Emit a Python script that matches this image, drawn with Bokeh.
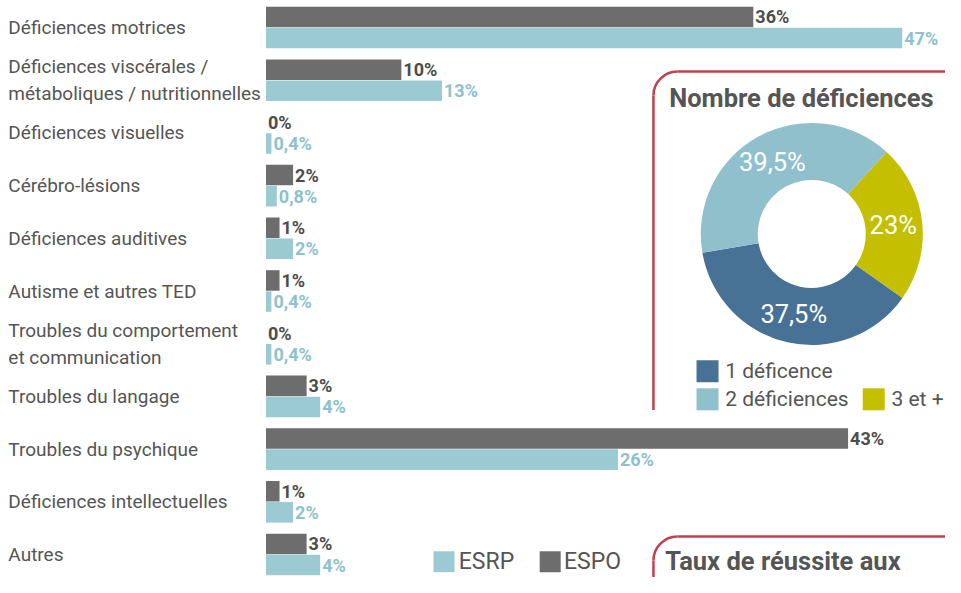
import numpy as np
from bokeh.plotting import figure
from bokeh.models import Range1d, ColumnDataSource
from bokeh.core.properties import value
from bokeh.embed import file_html
from bokeh.resources import INLINE

# ---------------- data ----------------
categories = [
    "Déficiences motrices",
    "Déficiences viscérales /\nmétaboliques / nutritionnelles",
    "Déficiences visuelles",
    "Cérébro-lésions",
    "Déficiences auditives",
    "Autisme et autres TED",
    "Troubles du comportement\net communication",
    "Troubles du langage",
    "Troubles du psychique",
    "Déficiences intellectuelles",
    "Autres",
]
espo = [36, 10, 0, 2, 1, 1, 0, 3, 43, 1, 3]
esrp = [47, 13, 0.4, 0.8, 2, 0.4, 0.4, 4, 26, 2, 4]
espo_labels = ["36%", "10%", "0%", "2%", "1%", "1%", "0%", "3%", "43%", "1%", "3%"]
esrp_labels = ["47%", "13%", "0,4%", "0,8%", "2%", "0,4%", "0,4%", "4%", "26%", "2%", "4%"]
series_names = ["ESRP", "ESPO"]

donut_cats = ["1 déficence", "2 déficiences", "3 et +"]
donut_vals = [37.5, 39.5, 23]
donut_labels = ["37,5%", "39,5%", "23%"]

panel_titles = ["Nombre de déficiences", "Taux de réussite aux"]

# ---------------- styles ----------------
C_ESPO = "#6d6d6d"
C_ESRP = "#9ccad3"
C_ESRP_TXT = "#8cc2cd"
C_TXT = "#555555"
C_RED = "#c2404f"
DONUT_COLORS = ["#487295", "#8fc0cc", "#c4bf00"]
FONT = value("Roboto")

W, H = 945, 577
FX = W / 961.0          # page -> canvas compression (horizontal)
PITCH = 52.7            # canvas px per category row
FY = PITCH / 54.5       # vertical compression
ROW0 = 27.0             # canvas y of first row centre
X0 = 270 * FX           # canvas px of 0 %
S = (917 * FX - X0) / 47.0   # px per percent

x_start = -X0 / S
x_end = (W - X0) / S
y_end = ROW0 / PITCH
y_start = y_end - H / PITCH


def X(page_x):
    return (page_x * FX - X0) / S


def Y(page_y):
    cy = ROW0 + (page_y - 29.5) * FY
    return y_end - cy / PITCH


p = figure(width=W, height=H, output_backend="svg", toolbar_location=None,
           x_range=Range1d(x_start, x_end), y_range=Range1d(y_start, y_end),
           min_border=0, min_border_left=0, min_border_right=0,
           min_border_top=0, min_border_bottom=0)
p.axis.visible = False
p.grid.visible = False
p.outline_line_color = None
p.background_fill_color = "white"

n = len(categories)
rows = -np.arange(n, dtype=float)
src = ColumnDataSource(dict(
    cat=categories, y=rows, y_espo=rows + 0.2, y_esrp=rows - 0.2,
    espo=espo, esrp=esrp, espo_lab=espo_labels, esrp_lab=esrp_labels,
    x0=[X(8)] * n,
))

p.hbar(y="y_espo", left=0, right="espo", height=0.39, source=src,
       fill_color=C_ESPO, line_color=None)
p.hbar(y="y_esrp", left=0, right="esrp", height=0.39, source=src,
       fill_color=C_ESRP, line_color=None)

p.text(x="x0", y="y", text="cat", source=src, text_font=FONT,
       text_font_size="19px", text_color=C_TXT, text_align="left",
       text_baseline="middle", text_line_height=1.18)
p.text(x="espo", y="y_espo", text="espo_lab", source=src, x_offset=2,
       text_font=FONT, text_font_size="18px", text_font_style="bold",
       text_color="#4d4d4d", text_baseline="middle")
p.text(x="esrp", y="y_esrp", text="esrp_lab", source=src, x_offset=2,
       text_font=FONT, text_font_size="18px", text_font_style="bold",
       text_color=C_ESRP_TXT, text_baseline="middle")

# bar legend (bottom)
p.scatter(x=[X(451), X(559)], y=[Y(582), Y(582)], marker="square", size=21,
          fill_color=[C_ESRP, C_ESPO], line_color=None)
p.text(x=[X(466), X(573)], y=[Y(582), Y(582)], text=series_names,
       text_font=FONT, text_font_size="23px", text_color=C_TXT,
       text_baseline="middle")

# ---------------- red panels ----------------
R = 24
for top, bottom in [(75, 425), (556, 700)]:
    cx, cy = 664 + R / FX, top + R / FY
    p.arc(x=X(cx), y=Y(cy), radius=R, radius_units="screen",
          start_angle=np.pi / 2, end_angle=np.pi, line_color=C_RED, line_width=2.5)
    p.segment(x0=X(cx), y0=Y(top), x1=X(1000), y1=Y(top), line_color=C_RED, line_width=2.5)
    p.segment(x0=X(664), y0=Y(cy), x1=X(664), y1=Y(bottom), line_color=C_RED, line_width=2.5)

p.text(x=[X(680), X(676)], y=[Y(102), Y(581)], text=panel_titles, text_font=FONT,
       text_font_size="25.5px", text_font_style="bold", text_color=C_TXT,
       text_baseline="middle")

# ---------------- donut ----------------
order = [0, 2, 1]   # counter-clockwise drawing order
start = np.deg2rad(-170.2)
vals = np.array(donut_vals, dtype=float)
tot = vals.sum()
starts, ends, cols, mids, labs = [], [], [], [], []
a = start
for i in order:
    span = vals[i] / tot * 2 * np.pi
    starts.append(a)
    ends.append(a + span)
    cols.append(DONUT_COLORS[i])
    mids.append(a + span / 2)
    labs.append(donut_labels[i])
    a += span
dcx, dcy = X(825), Y(243)
p.annular_wedge(x=dcx, y=dcy, inner_radius=54, outer_radius=111,
                inner_radius_units="screen", outer_radius_units="screen",
                start_angle=starts, end_angle=ends, fill_color=cols, line_color=None)
mids = np.array(mids)
RL = 82
p.text(x=[dcx] * 3, y=[dcy] * 3, text=labs, x_offset=list(RL * np.cos(mids)),
       y_offset=list(-RL * np.sin(mids)), text_font=FONT, text_font_size="25.5px",
       text_color="white", text_align="center", text_baseline="middle")

# donut legend
p.scatter(x=[X(719), X(719), X(888)], y=[Y(385), Y(414), Y(414)], marker="square",
          size=22, fill_color=DONUT_COLORS, line_color=None)
p.text(x=[X(737), X(737), X(906)], y=[Y(385), Y(414), Y(414)], text=donut_cats,
       text_font=FONT, text_font_size="21px", text_color=C_TXT, text_baseline="middle")

open("out.html", "w").write(file_html(p, INLINE))
